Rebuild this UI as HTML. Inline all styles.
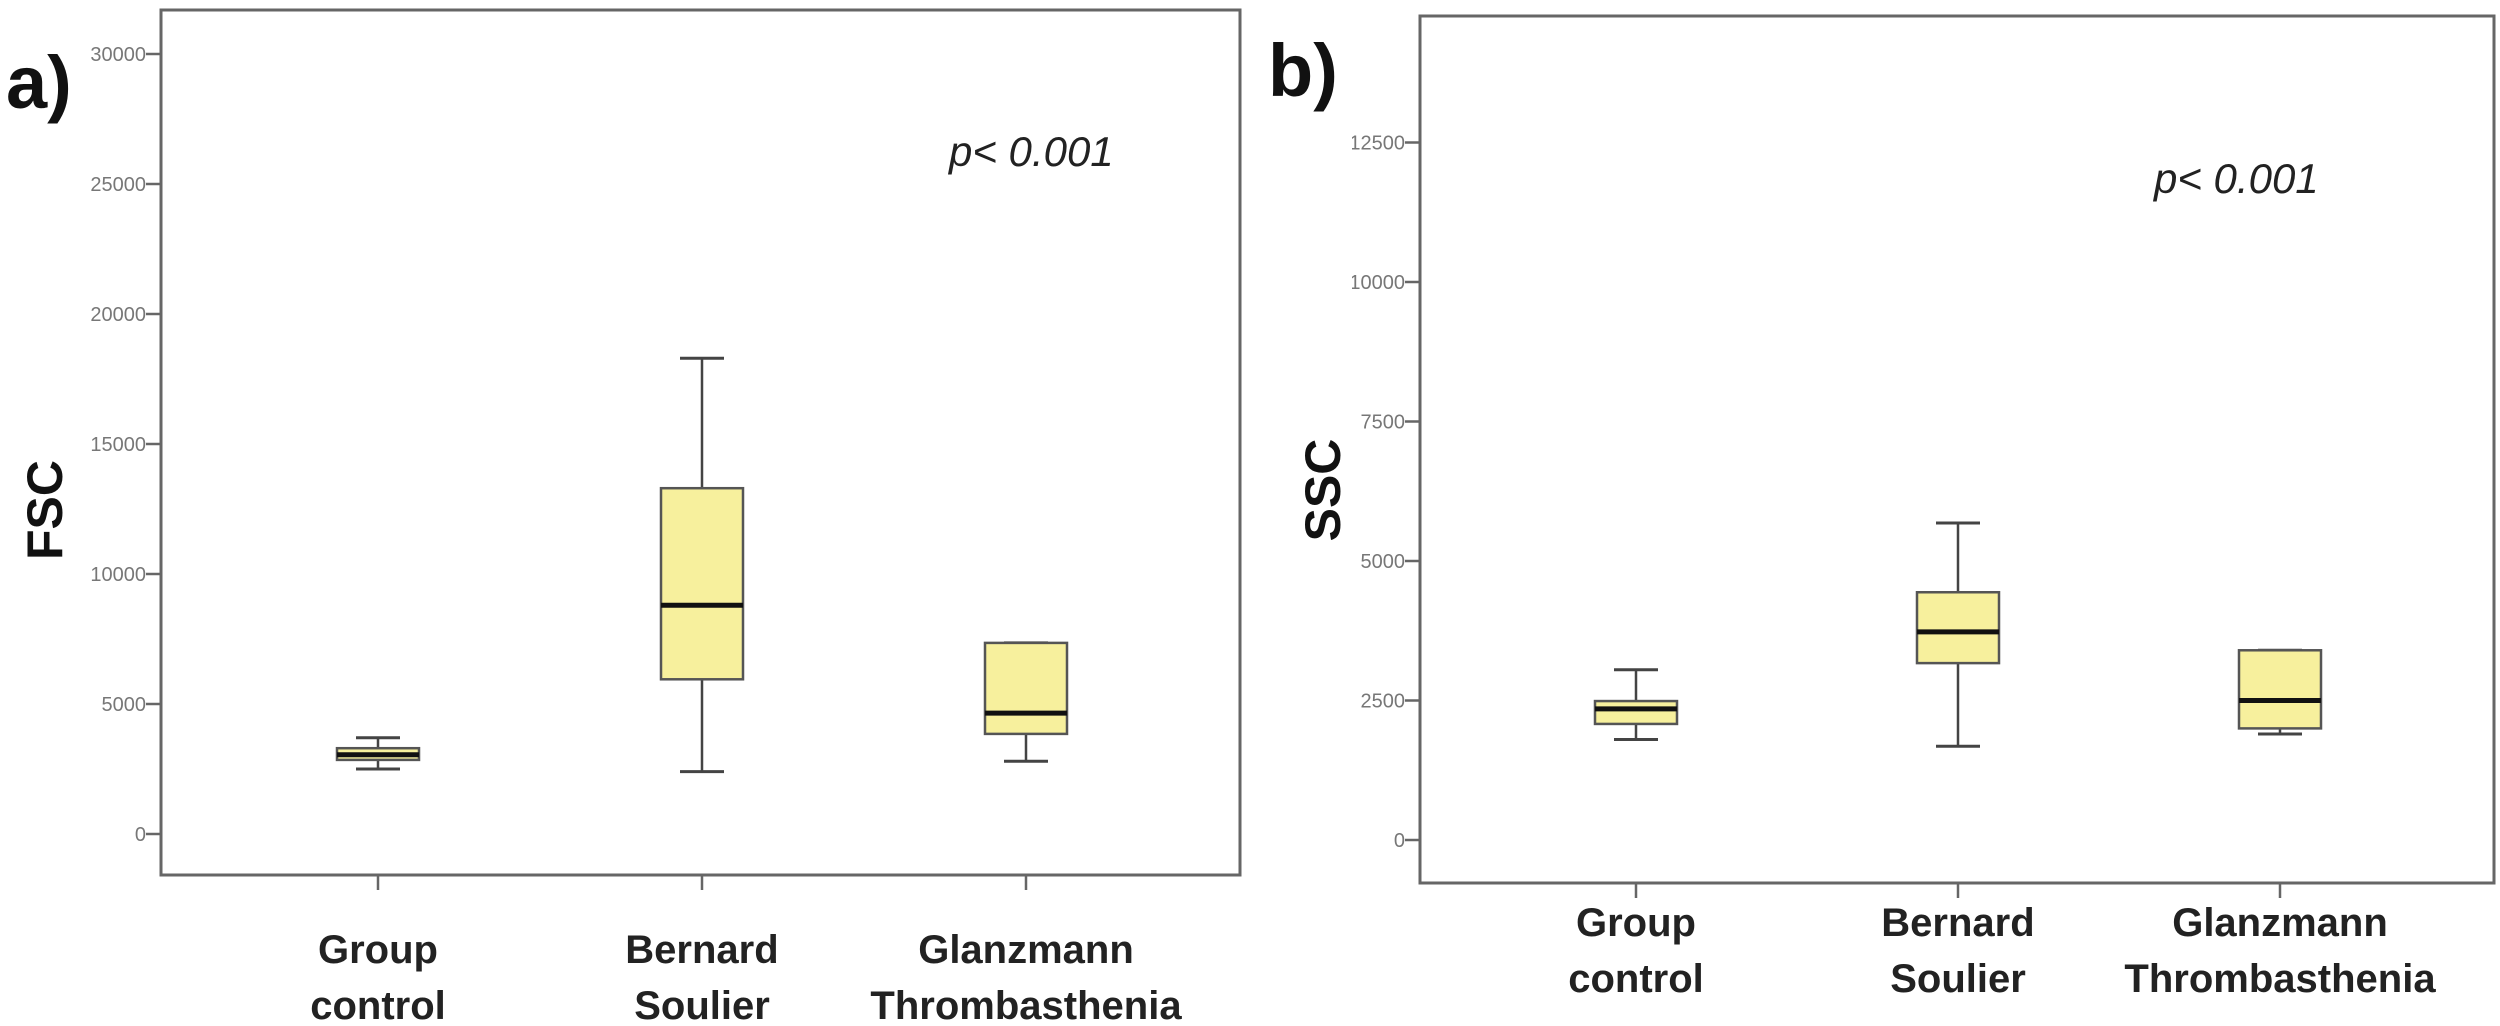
<!DOCTYPE html>
<html><head><meta charset="utf-8"><style>
html,body{margin:0;padding:0;background:#fff}
svg{display:block}
text{font-family:"Liberation Sans",sans-serif}
</style></head><body>
<svg id="chart" width="2500" height="1026" viewBox="0 0 2500 1026" xmlns="http://www.w3.org/2000/svg">
<defs><clipPath id="clipB"><rect x="1352" y="0" width="1148" height="1026"/></clipPath></defs>
<g id="panelA"></g>
<g id="panelB"></g>
</svg>
<script>
const categories = [["Group","control"],["Bernard","Soulier"],["Glanzmann","Thrombasthenia"]];
const fscLow = [2500, 2400, 2800];
const fscQ1 = [2850, 5950, 3850];
const fscMed = [3050, 8800, 4650];
const fscQ3 = [3300, 13300, 7350];
const fscHigh = [3700, 18300, 7350];
const fscTicks = [0, 5000, 10000, 15000, 20000, 25000, 30000];
const sscLow = [1800, 1680, 1900];
const sscQ1 = [2080, 3170, 2000];
const sscMed = [2350, 3730, 2500];
const sscQ3 = [2490, 4440, 3400];
const sscHigh = [3050, 5680, 3400];
const sscTicks = [0, 2500, 5000, 7500, 10000, 12500];

const NS = "http://www.w3.org/2000/svg";
function mk(parent, tag, attrs, txt){
  const e = document.createElementNS(NS, tag);
  for (const k in attrs) e.setAttribute(k, attrs[k]);
  if (txt !== undefined) e.textContent = txt;
  parent.appendChild(e);
  return e;
}

function drawPanel(g, cfg){
  const y = v => cfg.y0 - v * cfg.ppu;
  const x = i => cfg.xs[i];
  const frame = mk(g, "rect", {x:cfg.left, y:cfg.top, width:cfg.right-cfg.left, height:cfg.bottom-cfg.top, fill:"none", stroke:"#666", "stroke-width":3});
  
  
  const yt = mk(g, "g", {"clip-path": cfg.clip || ""});
  
  
  cfg.ticks.forEach(t => {
    const l = mk(yt, "line", {x1:cfg.left-15, x2:cfg.left, y1:y(t), y2:y(t), stroke:"#666", "stroke-width":2.5});
    
    
    const tx = mk(yt, "text", {x:cfg.left-15, y:y(t)+7, "text-anchor":"end", "font-size":20, fill:"#777"}, String(t));
    
    
  });
  categories.forEach((c, i) => {
    const l = mk(g, "line", {x1:x(i), x2:x(i), y1:cfg.bottom, y2:cfg.bottom+15, stroke:"#666", "stroke-width":2.5});
    
    
    const t1 = mk(g, "text", {x:x(i), y:cfg.lab1, "text-anchor":"middle", "font-size":40, "font-weight":"bold", fill:"#222"}, c[0]);
    
    
    const t2 = mk(g, "text", {x:x(i), y:cfg.lab1+56, "text-anchor":"middle", "font-size":40, "font-weight":"bold", fill:"#222"}, c[1]);
    
    
    const bg = mk(g, "g", {});
    
    
    const hw = 41, cw = 22;
    const w1 = mk(bg, "line", {x1:x(i), x2:x(i), y1:y(cfg.low[i]), y2:y(cfg.high[i]), stroke:"#444", "stroke-width":2.5});
    
    
    [cfg.low[i], cfg.high[i]].forEach(v => {
      const cap = mk(bg, "line", {x1:x(i)-cw, x2:x(i)+cw, y1:y(v), y2:y(v), stroke:"#444", "stroke-width":3});
      
      
    });
    const box = mk(bg, "rect", {x:x(i)-hw, y:y(cfg.q3[i]), width:2*hw, height:y(cfg.q1[i])-y(cfg.q3[i]), fill:"#f7f09d", stroke:"#555", "stroke-width":2.5});
    
    
    const med = mk(bg, "line", {x1:x(i)-hw, x2:x(i)+hw, y1:y(cfg.med[i]), y2:y(cfg.med[i]), stroke:"#111", "stroke-width":5});
    
    
  });
  const yl = mk(g, "text", {x:0, y:0, transform:`translate(${cfg.ylx},${cfg.yly}) rotate(-90)`, "text-anchor":"middle", "font-size":50, "font-weight":"bold", fill:"#111"}, cfg.ylabel);
  
  
  const pl = mk(g, "text", {x:cfg.px, y:cfg.py, "font-size":42, "font-style":"italic", fill:"#222"}, "p< 0.001");
  
  
  const pan = mk(g, "text", {x:cfg.plx, y:cfg.ply, "font-size":74, "font-weight":"bold", fill:"#111"}, cfg.panel);
  
  
}

drawPanel(document.getElementById("panelA"), {
  left:161, right:1240, top:10, bottom:875, y0:834, ppu:26/1000,
  xs:[378, 702, 1026], ticks:fscTicks,
  low:fscLow, q1:fscQ1, med:fscMed, q3:fscQ3, high:fscHigh,
  lab1:963, ylabel:"FSC", ylx:62, yly:510, px:949, py:166, panel:"a)", plx:6, ply:108
});
drawPanel(document.getElementById("panelB"), {
  left:1420, right:2494, top:16, bottom:883, y0:840, ppu:55.8/1000,
  xs:[1636, 1958, 2280], ticks:sscTicks, clip:"url(#clipB)",
  low:sscLow, q1:sscQ1, med:sscMed, q3:sscQ3, high:sscHigh,
  lab1:936, ylabel:"SSC", ylx:1340, yly:490, px:2154, py:193, panel:"b)", plx:1268, ply:96
});
</script>
</body></html>
